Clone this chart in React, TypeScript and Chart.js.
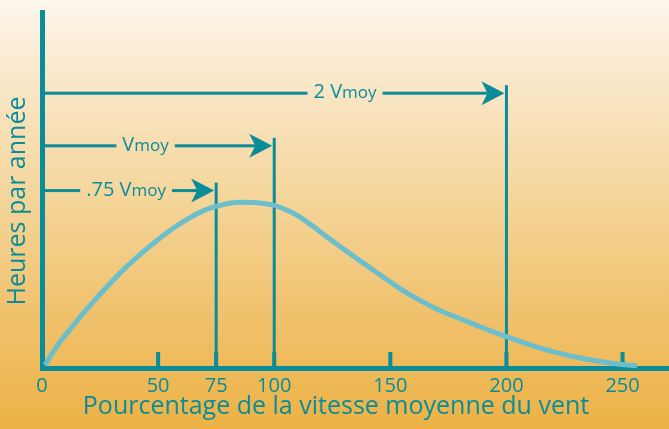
import React, { useEffect, useRef } from 'react';
import { Chart, registerables } from 'chart.js';

Chart.register(...registerables);

// ---- data ----
const xTicks = [0, 50, 75, 100, 150, 200, 250];
const tickMarks = [50, 75, 100, 150, 200, 250];
const curveX = [1.3, 6.3, 13.5, 20.7, 27.9, 35.0, 42.2, 49.4, 56.5, 63.7, 70.9, 78.1, 85.3, 92.5, 99.6, 106.8, 113.0, 120.0, 127.0, 134.0, 141.0, 148.0, 155.0, 162.0, 169.0, 176.0, 183.0, 188.6, 195.8, 203.0, 210.1, 220.0, 231.7, 244.6, 256.2];
const curveY = [0.8, 6.0, 12.0, 17.6, 22.8, 27.6, 31.9, 35.8, 39.3, 42.3, 44.6, 46.0, 46.6, 46.5, 45.8, 44.0, 41.6, 38.2, 34.8, 31.5, 28.3, 25.1, 22.0, 19.3, 16.9, 14.9, 13.1, 11.6, 9.8, 8.1, 6.5, 4.6, 2.8, 1.4, 0.6];
const markerValues = [75, 100, 200];
const markerLevels = [49.9, 62.5, 77.3];
const markerLabelMain = ['.75 V', 'V', '2 V'];
const markerLabelSub = ['moy', 'moy', 'moy'];
const markerLabelAt = [36.2, 44.6, 130.5];
const xTitle = 'Pourcentage de la vitesse moyenne du vent';
const yTitle = 'Heures par année';

const TEAL = '#0A8C99';
const CURVE = '#6BBECC';
const FONT = '"Open Sans", "Noto Sans", sans-serif';

const decorPlugin = {
  id: 'decor',
  beforeDraw(chart: any) {
    const { ctx, width, height } = chart;
    const g = ctx.createLinearGradient(0, 0, 0, height);
    g.addColorStop(0, '#FDF7EE');
    g.addColorStop(0.15, '#FAEAD0');
    g.addColorStop(0.45, '#F5D69C');
    g.addColorStop(0.75, '#F0C06A');
    g.addColorStop(1, '#ECB246');
    ctx.save();
    ctx.fillStyle = g;
    ctx.fillRect(0, 0, width, height);
    ctx.restore();
  },
  beforeDatasetsDraw(chart: any) {
    const { ctx } = chart;
    const x = chart.scales.x;
    const y = chart.scales.y;
    const y0 = y.getPixelForValue(0);
    const left = x.getPixelForValue(0);
    ctx.save();
    ctx.fillStyle = TEAL;
    tickMarks.forEach((v) => {
      const px = x.getPixelForValue(v);
      ctx.fillRect(px - 2, y0 - 16, 4, 16);
    });
    markerValues.forEach((v, i) => {
      const px = x.getPixelForValue(v);
      const py = y.getPixelForValue(markerLevels[i]);
      ctx.fillRect(px - 1.5, py - 8, 3, y0 - (py - 8));
      const mainFont = `20px ${FONT}`;
      const subFont = `17px ${FONT}`;
      ctx.font = mainFont;
      const wMain = ctx.measureText(markerLabelMain[i]).width;
      ctx.font = subFont;
      const wSub = ctx.measureText(markerLabelSub[i]).width;
      const total = wMain + wSub;
      const cx = x.getPixelForValue(markerLabelAt[i]);
      const tx0 = cx - total / 2;
      const tx1 = cx + total / 2;
      ctx.fillRect(left, py - 1.5, tx0 - 6 - left, 3);
      const tip = px - 2;
      ctx.fillRect(tx1 + 6, py - 1.5, tip - 17 - (tx1 + 6), 3);
      ctx.beginPath();
      ctx.moveTo(tip, py);
      ctx.lineTo(tip - 23, py - 12);
      ctx.lineTo(tip - 17, py);
      ctx.lineTo(tip - 23, py + 12);
      ctx.closePath();
      ctx.fill();
      ctx.textAlign = 'left';
      ctx.textBaseline = 'alphabetic';
      ctx.font = mainFont;
      ctx.fillText(markerLabelMain[i], tx0, py + 5);
      ctx.font = subFont;
      ctx.fillText(markerLabelSub[i], tx0 + wMain, py + 5);
    });
    // x axis title
    ctx.font = `25px ${FONT}`;
    ctx.textAlign = 'center';
    ctx.textBaseline = 'alphabetic';
    ctx.fillText(xTitle, 336, 413.5);
    // y axis title
    ctx.translate(25, 201);
    ctx.rotate(-Math.PI / 2);
    ctx.font = `25px ${FONT}`;
    ctx.textAlign = 'center';
    ctx.textBaseline = 'alphabetic';
    ctx.fillText(yTitle, 0, 0);
    ctx.restore();
  },
};

export default function App() {
  const ref = useRef<HTMLCanvasElement | null>(null);
  useEffect(() => {
    document.body.style.margin = '0';
    const canvas = ref.current;
    if (!canvas) return;
    const chart = new Chart(canvas, {
      type: 'line',
      data: {
        datasets: [
          {
            data: curveX.map((v, i) => ({ x: v, y: curveY[i] })),
            borderColor: CURVE,
            borderWidth: 5,
            pointRadius: 0,
            cubicInterpolationMode: 'monotone',
            fill: false,
            clip: false as any,
          },
        ],
      },
      options: {
        animation: false,
        responsive: false,
        devicePixelRatio: 1,
        layout: { padding: { top: 12.5, left: 0, right: 0, bottom: 0 } },
        plugins: { legend: { display: false }, tooltip: { enabled: false } },
        scales: {
          x: {
            type: 'linear',
            min: 0,
            max: 270,
            afterBuildTicks: (s: any) => {
              s.ticks = xTicks.map((v) => ({ value: v }));
            },
            afterFit: (s: any) => {
              s.height = 61;
            },
            grid: { display: true, color: 'transparent', drawTicks: false },
            border: { display: true, color: TEAL, width: 5 },
            ticks: {
              color: TEAL,
              font: { family: FONT, size: 20 },
              padding: 6,
              autoSkip: false,
              maxRotation: 0,
              callback: (v: any) => String(v),
            },
            title: { display: false },
          },
          y: {
            min: 0,
            max: 100,
            afterFit: (s: any) => {
              s.width = 42;
            },
            grid: { display: true, color: 'transparent', drawTicks: false },
            border: { display: true, color: TEAL, width: 5 },
            ticks: { display: false },
          },
        },
      },
      plugins: [decorPlugin],
    });
    return () => chart.destroy();
  }, []);
  return <canvas ref={ref} width={669} height={429} style={{ display: 'block' }} />;
}
